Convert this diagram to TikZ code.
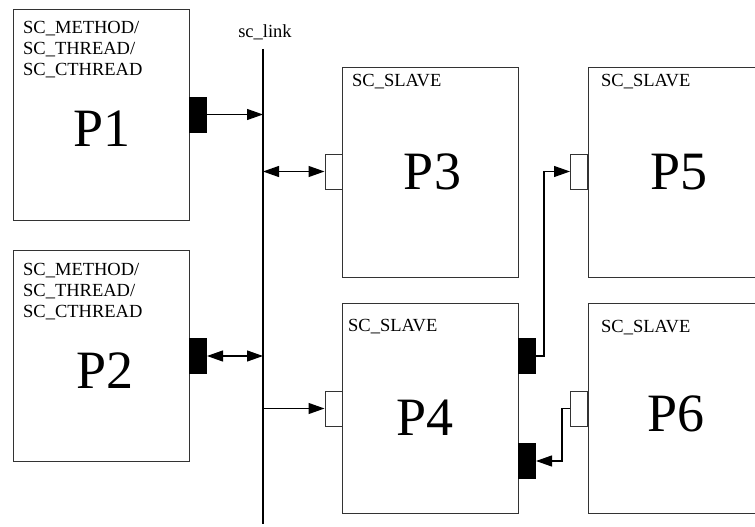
\documentclass[tikz,border=0pt]{standalone}
\usepackage{fontspec}
\setmainfont{Liberation Serif}
\usetikzlibrary{arrows.meta}
\begin{document}
\begin{tikzpicture}[x=1pt,y=-1pt,
  box/.style={draw=black!80, line width=1pt, inner sep=0pt, anchor=north west, minimum width=176pt, minimum height=211pt},
  portw/.style={draw=black!80, fill=white, line width=1pt, inner sep=0pt, minimum width=17pt, minimum height=35pt},
  portb/.style={draw=black, fill=black, line width=1pt, inner sep=0pt, minimum width=17pt, minimum height=35pt},
  small/.style={inner sep=0pt, anchor=base west, font=\fontsize{18.5}{21}\selectfont},
  big/.style={inner sep=0pt, anchor=base, font=\fontsize{54}{60}\selectfont},
  conn/.style={line width=1.2pt, -{Triangle[length=16pt,width=11pt]}},
  conn2/.style={line width=1.2pt, {Triangle[length=16pt,width=11pt]}-{Triangle[length=16pt,width=11pt]}}
]
\useasboundingbox (0,0) rectangle (755,527);
% boxes
\node[box] (P1) at (13,9) {};
\node[box] (P2) at (13,250) {};
\node[box, minimum height=210pt] (P3) at (342,67) {};
\node[box, minimum height=210pt] (P4) at (342,303) {};
\node[box, minimum height=210pt, minimum width=172pt] (P5) at (588,67) {};
\node[box, minimum height=210pt, minimum width=172pt] (P6) at (588,303) {};
% bus
\coordinate (bustop) at (263,49);
\coordinate (busbot) at (263,524);
\draw[line width=2pt] (bustop) -- (busbot);
\node[inner sep=0pt, anchor=base, font=\fontsize{18.5}{21}\selectfont] (link) at (265,38) {sc\_link};
% texts
\node[small] (m1a) at (23,34) {SC\_METHOD/};
\node[small] (m1b) at (23,55) {SC\_THREAD/};
\node[small] (m1c) at (23,76) {SC\_CTHREAD};
\node[small] (m2a) at (23,275) {SC\_METHOD/};
\node[small] (m2b) at (23,296) {SC\_THREAD/};
\node[small] (m2c) at (23,317) {SC\_CTHREAD};
\node[small] (s3) at (352,87) {SC\_SLAVE};
\node[small] (s5) at (601,87) {SC\_SLAVE};
\node[small] (s4) at (348,331) {SC\_SLAVE};
\node[small] (s6) at (601,332) {SC\_SLAVE};
\node[big] (l1) at (102,146.7) {P1};
\node[big] (l2) at (105,388) {P2};
\node[big] (l3) at (432.5,189) {P3};
\node[big] (l4) at (425,435) {P4};
\node[big] (l5) at (679,189) {P5};
\node[big] (l6) at (676,431) {P6};
% ports
\node[portb] (p1port) at (198,114.5) {};
\node[portb] (p2port) at (198,356) {};
\node[portw] (p3port) at (333.5,171.5) {};
\node[portw] (p4lport) at (333.5,408.5) {};
\node[portb] (p4r1) at (527,356) {};
\node[portb] (p4r2) at (527,461) {};
\node[portw] (p5port) at (579,171.5) {};
\node[portw] (p6port) at (579,408.5) {};
% connectors
\draw[conn] (p1port.east) -- (p1port.east -| bustop);
\draw[conn2] (p3port.west -| bustop) -- (p3port.west);
\draw[conn2] (p2port.east) -- (p2port.east -| bustop);
\draw[conn] (p4lport.west -| bustop) -- (p4lport.west);
\draw[conn] (p4r1.east) -- ++(8,0) |- (p5port.west);
\draw[conn] (p6port.west) -- ++(-8,0) |- (p4r2.east);
\end{tikzpicture}
\end{document}
